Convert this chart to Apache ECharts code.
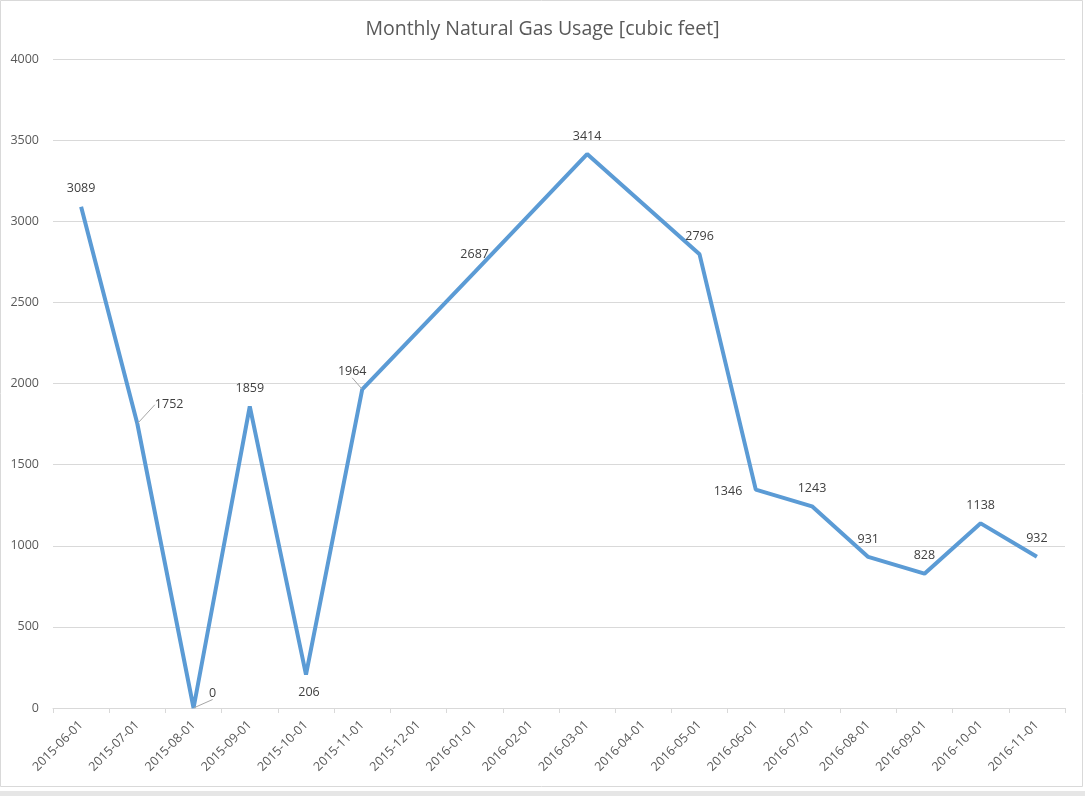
<!DOCTYPE html>
<html>
<head>
<meta charset="utf-8">
<script src="https://cdn.jsdelivr.net/npm/echarts@6/dist/echarts.min.js"></script>
<style>
html,body{margin:0;padding:0;background:#e6e6e6;}
#c{width:1085px;height:791px;background:#fff;}
</style>
</head>
<body>
<div id="c"></div>
<script>
const categories = ['2015-06-01','2015-07-01','2015-08-01','2015-09-01','2015-10-01','2015-11-01','2015-12-01','2016-01-01','2016-02-01','2016-03-01','2016-04-01','2016-05-01','2016-06-01','2016-07-01','2016-08-01','2016-09-01','2016-10-01','2016-11-01'];
const usage = [3089, 1752, 0, 1859, 206, 1964, null, 2687, null, 3414, null, 2796, 1346, 1243, 931, 828, 1138, 932];
const yTicks = {min: 0, max: 4000, interval: 500};

// label placement tweaks per data index (style only)
const labelTweaks = {
  1: {position: 'right', dx: 6, dy: -19, line: true},
  2: {position: 'right', dx: 4, dy: -15, line: true},
  4: {position: 'bottom', dx: 3, dy: 0},
  5: {position: 'top', dx: -10, dy: 0, line: true},
  12: {position: 'left', dx: -2, dy: 2},
  17: {position: 'top', dx: 0, dy: 0}
};

const seriesData = usage.map((v, i) => {
  const t = labelTweaks[i];
  const item = {value: v};
  if (t) {
    item.label = {position: t.position};
    if (t.line) item.labelLine = {show: true, lineStyle: {color: '#a6a6a6', width: 1}};
  }
  return item;
});

const chart = echarts.init(document.getElementById('c'));
chart.setOption({
  animation: false,
  backgroundColor: '#fff',
  title: {
    text: 'Monthly Natural Gas Usage [cubic feet]',
    left: 'center',
    top: 14,
    textStyle: {fontFamily: 'Open Sans', fontSize: 19.5, fontWeight: 'normal', color: '#595959'}
  },
  grid: {left: 53, right: 20, top: 59, bottom: 83, containLabel: false},
  xAxis: {
    type: 'category',
    data: categories,
    boundaryGap: true,
    axisLine: {lineStyle: {color: '#d9d9d9', width: 1}},
    axisTick: {show: true, length: 5, alignWithLabel: false, lineStyle: {color: '#d9d9d9'}},
    axisLabel: {rotate: 45, interval: 0, color: '#595959', fontFamily: 'Open Sans', fontSize: 12.5, margin: 15}
  },
  yAxis: {
    type: 'value',
    min: yTicks.min, max: yTicks.max, interval: yTicks.interval,
    axisLine: {show: false},
    axisTick: {show: false},
    splitLine: {lineStyle: {color: '#d9d9d9', width: 1}},
    axisLabel: {color: '#595959', fontFamily: 'Open Sans', fontSize: 12.5, margin: 14,
      formatter: function (v) { return String(v); }}
  },
  graphic: [{
    type: 'rect', silent: true,
    shape: {x: 0.5, y: 0.5, width: 1082, height: 786},
    style: {fill: 'none', stroke: '#d9d9d9', lineWidth: 1}
  }],
  series: [{
    type: 'line',
    data: seriesData,
    connectNulls: true,
    showSymbol: true,
    symbol: 'circle',
    symbolSize: 1,
    itemStyle: {color: 'rgba(0,0,0,0)'},
    lineStyle: {color: '#5B9BD5', width: 4},
    emphasis: {disabled: true},
    label: {
      show: true, position: 'top', distance: 11,
      color: '#404040', fontFamily: 'Open Sans', fontSize: 12.5
    },
    labelLayout: function (p) {
      const t = labelTweaks[p.dataIndex];
      if (t) return {dx: t.dx, dy: t.dy};
      return {};
    }
  }]
});
</script>
</body>
</html>
